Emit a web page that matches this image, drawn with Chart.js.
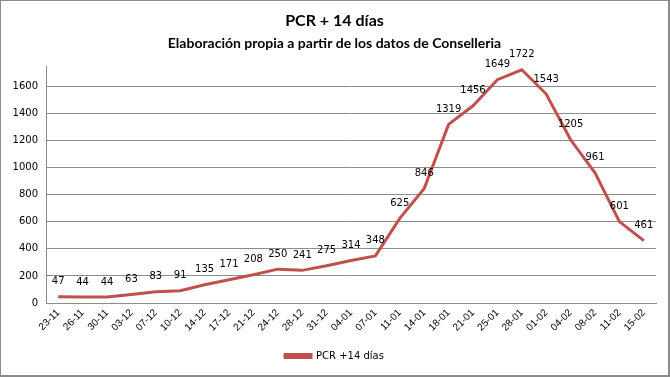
<!DOCTYPE html>
<html>
<head>
<meta charset="utf-8">
<script src="https://cdn.jsdelivr.net/npm/chart.js@4/dist/chart.umd.min.js"></script>
<style>
  html, body { margin: 0; padding: 0; background: #fff; }
  #wrap { position: relative; width: 670px; height: 377px; box-sizing: border-box; border: 2px solid #8c8c8c; border-top-width: 1px; border-left-width: 1px; background:#fff; }
  canvas { display: block; }
</style>
</head>
<body>
<div id="wrap"><canvas id="c" width="667" height="374"></canvas></div>
<script>
const categories = ["23-11","26-11","30-11","03-12","07-12","10-12","14-12","17-12","21-12","24-12","28-12","31-12","04-01","07-01","11-01","14-01","18-01","21-01","25-01","28-01","01-02","04-02","08-02","11-02","15-02"];
const pcrValues = [47,44,44,63,83,91,135,171,208,250,241,275,314,348,625,846,1319,1456,1649,1722,1543,1205,961,601,461];
const seriesName = "PCR +14 días";
const titleText = "PCR + 14 días";
const subtitleText = "Elaboración propia a partir de los datos de Conselleria";

const red = "#C0504D";

const dataLabels = {
  id: 'dataLabels',
  afterDatasetsDraw(chart) {
    const ctx = chart.ctx;
    const meta = chart.getDatasetMeta(0);
    ctx.save();
    ctx.font = '10px "DejaVu Sans"';
    ctx.fillStyle = '#000';
    ctx.textAlign = 'center';
    ctx.textBaseline = 'middle';
    meta.data.forEach((pt, i) => {
      ctx.fillText(String(chart.data.datasets[0].data[i]), pt.x, pt.y - 15);
    });
    ctx.restore();
  }
};

new Chart(document.getElementById('c'), {
  type: 'line',
  data: {
    labels: categories,
    datasets: [{
      label: seriesName,
      data: pcrValues,
      borderColor: red,
      backgroundColor: red,
      borderWidth: 3,
      pointRadius: 0,
      pointHoverRadius: 0,
      tension: 0,
      fill: false
    }]
  },
  options: {
    responsive: false,
    animation: false,
    layout: { padding: { top: 10, left: 12, right: 12, bottom: 4 } },
    plugins: {
      title: {
        display: true,
        text: titleText,
        color: '#000',
        font: { family: 'Lato', size: 16, weight: 'bold' },
        padding: { top: 0, bottom: 5 }
      },
      subtitle: {
        display: true,
        text: subtitleText,
        color: '#000',
        font: { family: 'Lato', size: 14, weight: 'bold' },
        padding: { top: 0, bottom: 14 }
      },
      legend: {
        display: true,
        position: 'bottom',
        labels: {
          color: '#000',
          font: { family: 'DejaVu Sans', size: 10 },
          boxWidth: 26,
          boxHeight: 3,
          padding: 8
        }
      },
      tooltip: { enabled: false }
    },
    scales: {
      x: {
        offset: true,
        grid: { display: false, drawTicks: false },
        border: { display: true, color: '#8c8c8c', width: 1 },
        ticks: {
          color: '#000',
          font: { family: 'Liberation Sans', size: 10 },
          minRotation: 45,
          maxRotation: 45,
          autoSkip: false,
          padding: 4
        },
        afterFit(scale) { scale.height = 40; }
      },
      y: {
        min: 0,
        max: 1750,
        grid: { color: '#8c8c8c', lineWidth: 1, drawTicks: false },
        border: { display: true, color: '#8c8c8c', width: 1 },
        ticks: {
          stepSize: 200,
          includeBounds: false,
          color: '#000',
          font: { family: 'DejaVu Sans', size: 10 },
          padding: 8,
          callback: (v) => String(v)
        },
        afterBuildTicks(scale) { scale.ticks = scale.ticks.filter(t => t.value % 200 === 0); },
        afterFit(scale) { scale.width = 33; }
      }
    }
  },
  plugins: [dataLabels]
});
</script>
</body>
</html>
